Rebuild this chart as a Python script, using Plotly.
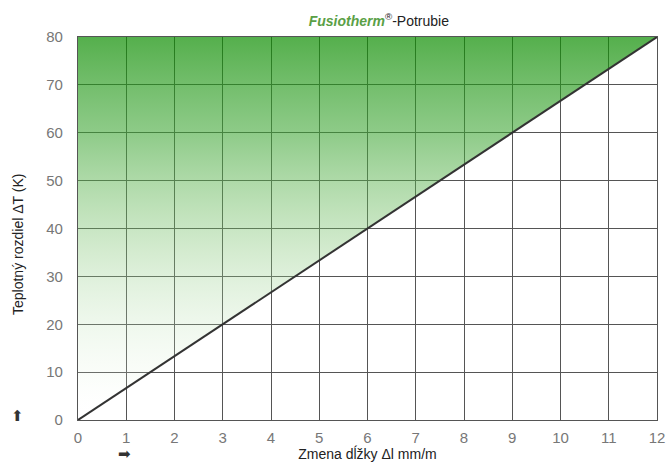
import plotly.graph_objects as go

# Data
x_ticks = list(range(0, 13))
y_ticks = list(range(0, 81, 10))
line_x = [0, 12]          # Zmena dĺžky Δl mm/m
line_y = [0, 80]          # Teplotný rozdiel ΔT (K)
fill_x = [0, 12, 0, 0]
fill_y = [0, 80, 80, 0]

fig = go.Figure()

fig.add_trace(go.Scatter(
    x=fill_x, y=fill_y, mode="lines", fill="toself",
    line=dict(width=0, color="rgba(0,0,0,0)"),
    fillgradient=dict(
        type="vertical", start=0, stop=80,
        colorscale=[
            [0.0, "rgba(255,255,255,0)"],
            [0.1, "rgba(230,245,225,0.15)"],
            [0.5, "rgba(112,189,98,0.38)"],
            [0.75, "rgba(60,165,50,0.58)"],
            [1.0, "rgba(12,141,0,0.70)"],
        ],
    ),
    hoverinfo="skip", showlegend=False,
))

fig.add_trace(go.Scatter(
    x=line_x, y=line_y, mode="lines",
    line=dict(color="#333333", width=2),
    showlegend=False,
))

axis_common = dict(
    showgrid=True, gridcolor="#555555", gridwidth=1.3,
    showline=True, linecolor="#555555", linewidth=1.3, mirror=True,
    zeroline=False, ticks="", automargin=False,
    tickfont=dict(family="Liberation Sans, Arial", size=15, color="#777777"),
)

fig.update_layout(
    width=667, height=462,
    margin=dict(l=78, r=10, t=37, b=42),
    paper_bgcolor="white", plot_bgcolor="white",
    xaxis=dict(range=[0, 12], tickvals=x_ticks, ticklabelstandoff=4,
               title=dict(text="Zmena dĺžky Δl mm/m", standoff=0,
                          font=dict(family="Liberation Sans, Arial", size=14, color="#222222")),
               **axis_common),
    yaxis=dict(range=[0, 80], tickvals=y_ticks, ticklabelstandoff=11,
               **axis_common),
    title=dict(
        text="<b><i><span style='color:#5aa046'>Fusiotherm</span></i></b><sup>®</sup>-Potrubie",
        x=0.568, xanchor="center", y=0.955, yanchor="middle",
        font=dict(family="Liberation Sans, Arial", size=14, color="#222222"),
    ),
    annotations=[
        dict(text="Teplotný rozdiel ΔT (K)", textangle=-90,
             xref="paper", yref="paper", x=-0.1036, y=0.457,
             xanchor="center", yanchor="middle", showarrow=False,
             font=dict(family="Liberation Sans, Arial", size=14, color="#222222")),
        dict(text="⬆", xref="paper", yref="paper", x=-0.105, y=0.01,
             xanchor="center", yanchor="middle", showarrow=False,
             font=dict(family="DejaVu Sans", size=15, color="#333333")),
        dict(text="➡", xref="paper", yref="paper", x=0.08, y=-0.09,
             xanchor="center", yanchor="middle", showarrow=False,
             font=dict(family="DejaVu Sans", size=15, color="#333333")),
    ],
)

fig.write_html("out.html", config={"displayModeBar": False},
               post_script="document.body.style.margin='0';")
